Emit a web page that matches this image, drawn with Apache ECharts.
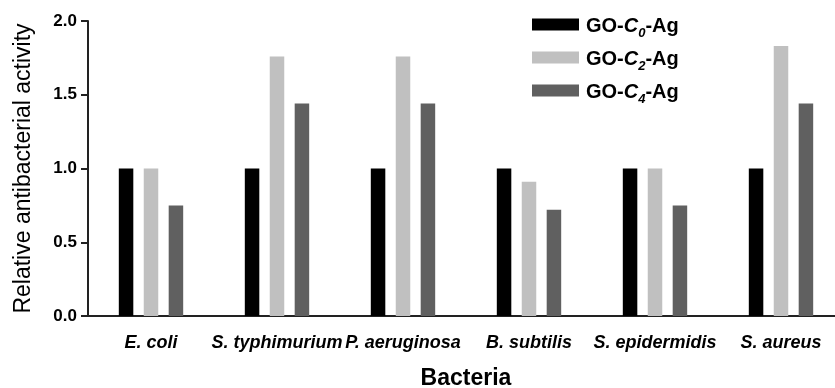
<!DOCTYPE html>
<html>
<head>
<meta charset="utf-8">
<script src="https://cdn.jsdelivr.net/npm/echarts@6/dist/echarts.min.js"></script>
<style>
  html, body { margin: 0; padding: 0; background: #fff; }
  #chart { width: 835px; height: 388px; }
</style>
</head>
<body>
<div id="chart"></div>
<script>
// bacteria on the x axis
const bacteria = ['E. coli', 'S. typhimurium', 'P. aeruginosa', 'B. subtilis', 'S. epidermidis', 'S. aureus']
const seriesNames = ['GO-C0-Ag', 'GO-C2-Ag', 'GO-C4-Ag']
const c0Values = [1.0, 1.0, 1.0, 1.0, 1.0, 1.0]
const c2Values = [1.0, 1.76, 1.76, 0.91, 1.0, 1.83]
const c4Values = [0.75, 1.44, 1.44, 0.72, 0.75, 1.44]
const yTicks = [0, 0.5, 1.0, 1.5, 2.0]

let Colors = ['#000000', '#c0c0c0', '#606060']
let font = '"Liberation Sans", Arial, sans-serif'

let chartDom = document.getElementById('chart')
let myChart = echarts.init(chartDom)

function bar (name, values, i) {
  return {
    name: name,
    type: 'bar',
    barWidth: 14.5,
    barGap: '72%',
    itemStyle: { color: Colors[i] },
    data: values
  }
}

let option = {
  animation: false,
  textStyle: { fontFamily: font },
  grid: {
    left: 88,
    right: -9,
    top: 21,
    bottom: 72,
    containLabel: false,
    outerBoundsMode: 'none'
  },
  legend: {
    orient: 'vertical',
    left: 527,
    top: 11,
    itemWidth: 47,
    itemHeight: 12,
    itemGap: 9,
    icon: 'rect',
    data: seriesNames,
    formatter: function (name) {
      // GO-C0-Ag -> GO-{italic C}{sub 0}-Ag
      let sub = name.charAt(4)
      return '{b|GO-}{i|C}{s|' + sub + '}{b|-Ag}'
    },
    textStyle: {
      padding: [0, 0, 0, 2],
      rich: {
        b: { fontSize: 20, fontWeight: 'bold', color: '#000', fontFamily: font, lineHeight: 23, verticalAlign: 'bottom' },
        i: { fontSize: 20, fontWeight: 'bold', fontStyle: 'italic', color: '#000', fontFamily: font, lineHeight: 23, verticalAlign: 'bottom' },
        s: { fontSize: 13, fontWeight: 'bold', fontStyle: 'italic', color: '#000', fontFamily: font, lineHeight: 23, verticalAlign: 'bottom', padding: [0, 0, -4, 0] }
      }
    }
  },
  xAxis: {
    type: 'category',
    data: bacteria,
    name: 'Bacteria',
    nameLocation: 'middle',
    nameGap: 51,
    nameTextStyle: { fontSize: 23, fontWeight: 'bold', color: '#000', fontFamily: font },
    axisLine: { lineStyle: { color: '#222', width: 2 } },
    axisTick: { alignWithLabel: true, length: 5, lineStyle: { color: '#222', width: 2 } },
    axisLabel: {
      interval: 0,
      margin: 18,
      fontSize: 18,
      fontWeight: 'bold',
      fontStyle: 'italic',
      color: '#000',
      fontFamily: font
    }
  },
  yAxis: {
    type: 'value',
    min: yTicks[0],
    max: yTicks[yTicks.length - 1],
    interval: 0.5,
    name: 'Relative antibacterial activity',
    nameLocation: 'middle',
    nameGap: 53,
    nameTextStyle: { fontSize: 23, color: '#000', fontFamily: font },
    splitLine: { show: false },
    axisLine: { show: true, lineStyle: { color: '#222', width: 2 } },
    axisTick: { show: true, length: 7, lineStyle: { color: '#222', width: 2 } },
    axisLabel: {
      margin: 11,
      fontSize: 17,
      fontWeight: 'bold',
      color: '#000',
      fontFamily: font,
      formatter: function (v) { return v.toFixed(1) }
    }
  },
  series: [
    bar(seriesNames[0], c0Values, 0),
    bar(seriesNames[1], c2Values, 1),
    bar(seriesNames[2], c4Values, 2)
  ]
}

myChart.setOption(option)
window.addEventListener('resize', () => myChart.resize())
</script>
</body>
</html>
